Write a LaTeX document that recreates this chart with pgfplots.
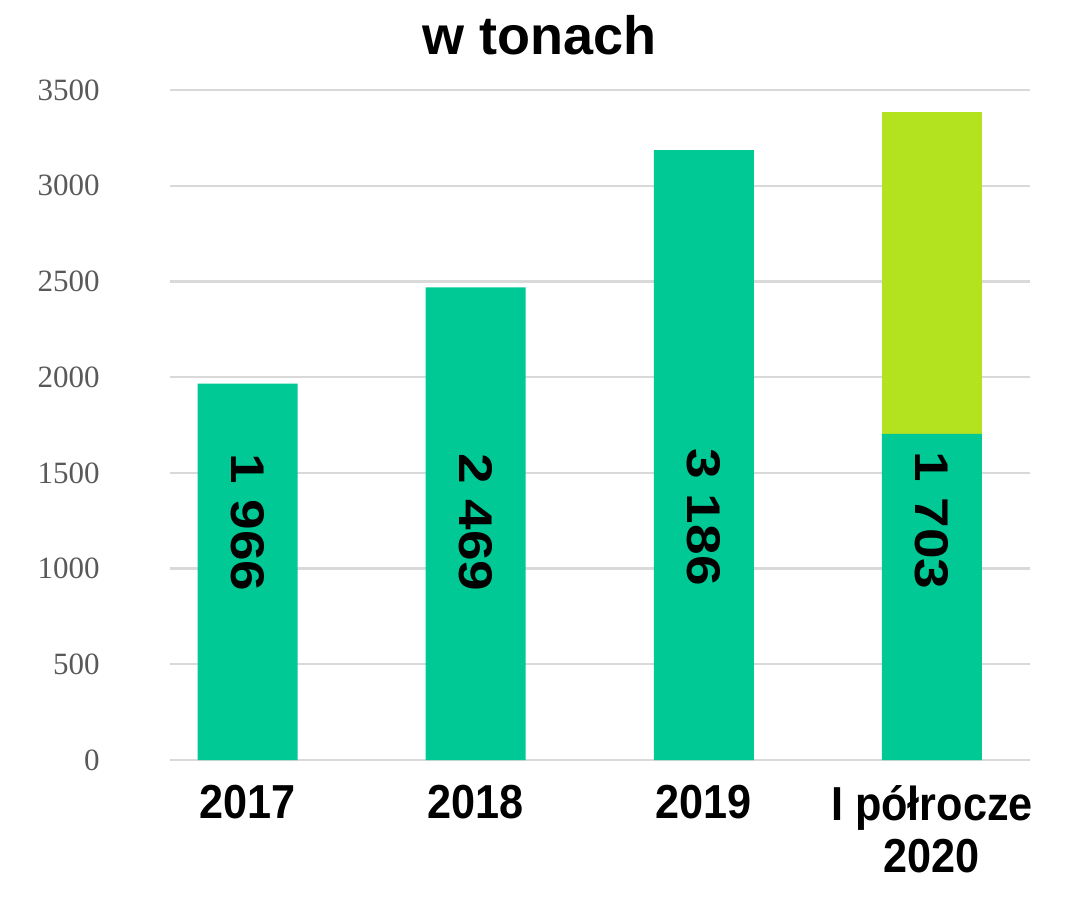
\documentclass[border=0pt]{standalone}
\usepackage{fontspec}
\setmainfont{Liberation Sans}
\newfontfamily\tnr{Liberation Serif}
\usepackage{pgfplots}
\pgfplotsset{compat=1.18}
\definecolor{barg}{HTML}{00C996}
\definecolor{lime}{HTML}{B3E21E}
\definecolor{gridc}{HTML}{D9D9D9}
\definecolor{tickc}{HTML}{595959}
\begin{document}
\begin{tikzpicture}
\path[use as bounding box] (-85pt,-69.5pt) rectangle (452.5pt,380pt);
\begin{axis}[
  at={(0,0)}, anchor=south west,
  scale only axis, width=430pt, height=335pt,
  ybar stacked, bar width=50pt,
  xmin=-0.34, xmax=3.43, ymin=0, ymax=3500,
  xtick={0,1,2,3},
  xticklabels={2017,2018,2019,{I półrocze\\2020}},
  ytick={0,500,...,3500},
  /pgf/number format/1000 sep={},
  /pgf/number format/assume math mode=true,
  axis x line*=bottom, axis y line*=left,
  x axis line style={draw=gridc, line width=1.2pt},
  y axis line style={draw=none},
  xtick style={draw=none}, ytick style={draw=none},
  ymajorgrids, grid style={draw=gridc, line width=1.1pt},
  yticklabel style={font=\tnr\fontsize{15.5}{16}\selectfont, text=tickc, anchor=east, inner sep=0pt, xshift=-35pt},
  xticklabel style={font=\bfseries\fontsize{22.5}{24.5}\selectfont, anchor=north, inner sep=0pt, yshift=-12.5pt, align=center, xscale=0.96, yscale=1.06},
  clip=false,
]
\addplot[fill=barg, draw=none] coordinates {(0,1966) (1,2469) (2,3186) (3,1703)};
\addplot[fill=lime, draw=none] coordinates {(0,0) (1,0) (2,0) (3,1680)};
\coordinate (l0) at (axis cs:0,1240);
\coordinate (l1) at (axis cs:1,1240);
\coordinate (l2) at (axis cs:2,1270);
\coordinate (l3) at (axis cs:3,1250);
\end{axis}
\foreach \c/\t in {l0/1 966, l1/2 469, l2/3 186, l3/1 703}{
  \node[rotate=-90, yscale=0.86, font=\bfseries\fontsize{27.5}{30}\selectfont] at (\c) {\t};
}
\node[font=\bfseries\fontsize{27}{30}\selectfont] at (185pt,362.5pt) {w tonach};
\end{tikzpicture}
\end{document}
